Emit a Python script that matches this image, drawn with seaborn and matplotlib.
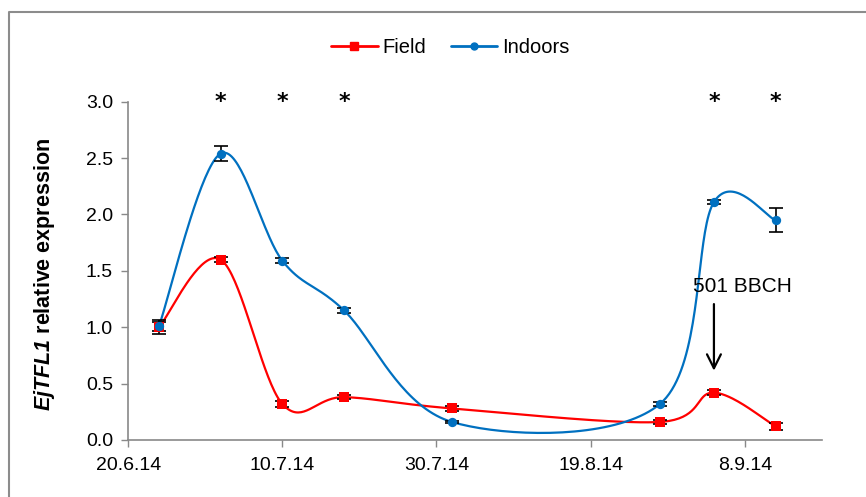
import numpy as np
import pandas as pd
import seaborn as sns
import matplotlib.pyplot as plt
from matplotlib.lines import Line2D

sns.set_style('white')
plt.rcParams['font.family'] = ['Liberation Sans', 'DejaVu Sans']
plt.rcParams['mathtext.fontset'] = 'custom'
plt.rcParams['mathtext.bfit'] = 'Liberation Sans:bold:italic'
plt.rcParams['mathtext.rm'] = 'Liberation Sans'
plt.rcParams['text.color'] = 'black'
plt.rcParams['axes.labelcolor'] = 'black'
plt.rcParams['xtick.labelcolor'] = 'black'
plt.rcParams['ytick.labelcolor'] = 'black'

# sampling dates and measured expression
dates = ['24.6.14', '2.7.14', '10.7.14', '18.7.14', '1.8.14',
         '28.8.14', '4.9.14', '12.9.14']
field = [1.00, 1.60, 0.32, 0.38, 0.28, 0.16, 0.42, 0.12]
field_err = [0.06, 0.02, 0.03, 0.02, 0.02, 0.02, 0.02, 0.03]
indoors = [1.01, 2.54, 1.59, 1.15, 0.16, 0.32, 2.11, 1.95]
indoors_err = [0.04, 0.065, 0.02, 0.02, 0.01, 0.02, 0.02, 0.105]
signif = ['2.7.14', '10.7.14', '18.7.14', '4.9.14', '12.9.14']
tick_labels = ['20.6.14', '10.7.14', '30.7.14', '19.8.14', '8.9.14']

start = pd.to_datetime('20.6.14', format='%d.%m.%y')


def days(lst):
    d = pd.to_datetime(pd.Series(lst), format='%d.%m.%y')
    return ((d - start).dt.days).to_numpy(dtype=float)


x = days(dates)
ticks = days(tick_labels)
xmax = 90

# pixel scale of the axes, used for excel-style smoothing
sx = 694 / xmax
sy = 339 / 3.0


def smooth(xs, ys, n=40):
    px = np.asarray(xs) * sx
    py = np.asarray(ys) * sy
    P = np.column_stack([px, py])
    P = np.vstack([P[0], P, P[-1]])
    out = []
    for i in range(1, len(P) - 2):
        p0, p1, p2, p3 = P[i - 1], P[i], P[i + 1], P[i + 2]
        c1 = p1 + (p2 - p0) / 6
        c2 = p2 - (p3 - p1) / 6
        t = np.linspace(0, 1, n)[:, None]
        b = ((1 - t) ** 3 * p1 + 3 * (1 - t) ** 2 * t * c1
             + 3 * (1 - t) * t ** 2 * c2 + t ** 3 * p2)
        out.append(b)
    out = np.vstack(out)
    return pd.DataFrame({'x': out[:, 0] / sx, 'y': out[:, 1] / sy})


red = '#FF0000'
blue = '#0070C0'

fig = plt.figure(figsize=(8.66, 4.97), dpi=100)
ax = fig.add_axes([0.148, 0.1147, 0.801, 0.6806])

for vals, err, col, mk in [(field, field_err, red, 's'),
                           (indoors, indoors_err, blue, 'o')]:
    curve = smooth(x, vals)
    sns.lineplot(data=curve, x='x', y='y', sort=False, color=col,
                 linewidth=1.6, ax=ax, zorder=2)
    ax.errorbar(x, vals, yerr=err, fmt='none', ecolor='black',
                elinewidth=1.2, capsize=5, capthick=1.2, zorder=3)
    sns.scatterplot(x=x, y=vals, color=col, marker=mk, s=45,
                    edgecolor=col, linewidth=0, ax=ax, zorder=4)

for d in days(signif):
    ax.text(d, 3.0, '*', ha='center', va='center', fontsize=16,
            fontweight='bold', family='DejaVu Sans', clip_on=False)

ax.annotate('', xy=(x[6], 0.59), xytext=(x[6], 1.23),
            arrowprops=dict(arrowstyle='->,head_width=0.5,head_length=1.0',
                            color='black', lw=1.6))
ax.text(73.3, 1.36, '501 BBCH', ha='left', va='center', fontsize=15)

ax.set_xlim(0, xmax)
ax.set_ylim(0, 3.0)
ax.set_xticks(ticks)
ax.set_xticklabels(tick_labels)
ax.set_yticks(np.arange(0, 3.01, 0.5))
ax.set_yticklabels(['%.1f' % v for v in np.arange(0, 3.01, 0.5)])
ax.tick_params(axis='both', labelsize=14, length=5, width=1,
               color='#898989', direction='out', bottom=True, left=True)
ax.tick_params(axis='x', pad=7)
ax.tick_params(axis='y', pad=6)
ax.set_xlabel('')
ax.set_ylabel(r'$\mathbfit{EjTFL1}$ relative expression', fontsize=15.5,
              fontweight='bold')
ax.yaxis.set_label_coords(-0.103, 0.49)
for s in ['top', 'right']:
    ax.spines[s].set_visible(False)
for s in ['left', 'bottom']:
    ax.spines[s].set_color('#898989')
    ax.spines[s].set_linewidth(1.2)

handles = [Line2D([], [], color=red, marker='s', markersize=6, lw=2),
           Line2D([], [], color=blue, marker='o', markersize=5, lw=2)]
fig.legend(handles, ['Field', 'Indoors'], loc='center',
           bbox_to_anchor=(0.52, 0.905), ncol=2, frameon=False,
           fontsize=14.5, handlelength=2.3, handletextpad=0.25,
           columnspacing=1.2)

fig.add_artist(Line2D([9 / 866, 9 / 866, 1.0], [0.0, 1 - 12 / 497, 1 - 12 / 497],
                      color='#8c8c8c', lw=1.5, transform=fig.transFigure))

fig.savefig('out.png', dpi=100)
